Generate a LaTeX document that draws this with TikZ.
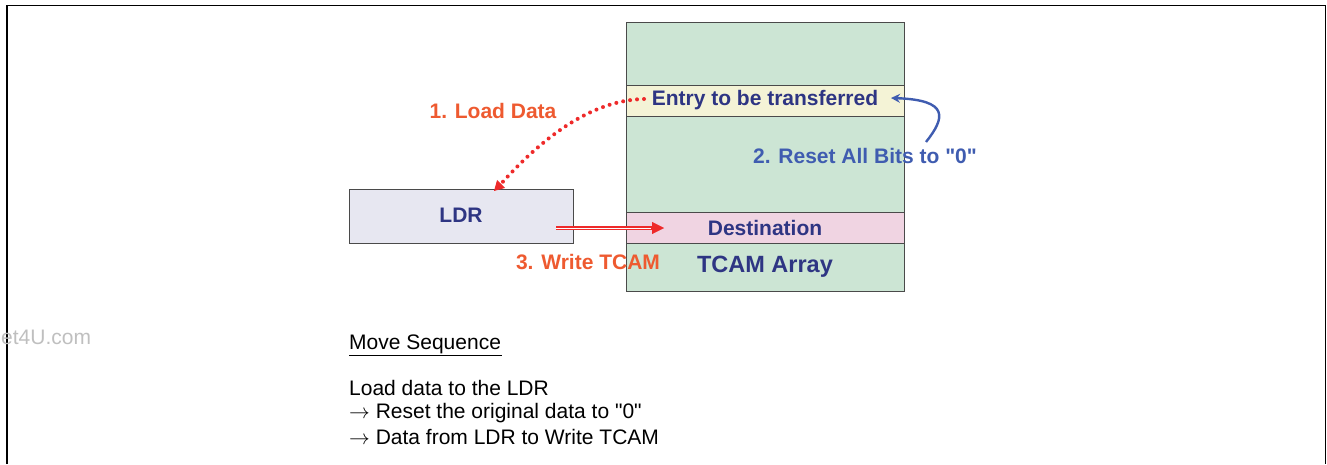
\documentclass[tikz,border=0pt]{standalone}
\usepackage{fontspec}
\setmainfont{Liberation Sans}[Ligatures=TeXOff]
\usetikzlibrary{arrows.meta,calc}
\definecolor{tgreen}{HTML}{CCE5D4}
\definecolor{tyellow}{HTML}{F4F3D6}
\definecolor{tpink}{HTML}{F0D4E2}
\definecolor{tlav}{HTML}{E7E7F1}
\definecolor{navy}{HTML}{2E3583}
\definecolor{ored}{HTML}{EE5A30}
\definecolor{bred}{HTML}{EE2A2A}
\definecolor{rblue}{HTML}{3F5CB0}
\definecolor{bord}{HTML}{4A4A4A}
\tikzset{
  band/.style={draw=bord, line width=1pt},
  lbl/.style={font=\bfseries\fontsize{21}{24}\selectfont, text=navy, inner sep=0pt},
  steplbl/.style={font=\bfseries\fontsize{21}{24}\selectfont, inner sep=0pt},
  plain/.style={font=\fontsize{21}{24}\selectfont, text=black, inner sep=0pt, anchor=west, text height=11pt, text depth=4pt},
}
\begin{document}
\begin{tikzpicture}[x=1pt,y=-1pt]
\useasboundingbox (0,0) rectangle (1327,464);
% frame
\draw[line width=1.6pt] (7,464) -- (7,5.5) -- (1325.5,5.5) -- (1325.5,464);
% watermark
\node[font=\fontsize{21}{24}\selectfont, text=black!25, inner sep=0pt, anchor=west] (wm) at (1,337) {et4U.com};
% TCAM array
\node[band, fill=tgreen, minimum width=278pt, minimum height=269pt, inner sep=0pt] (tcam) at (765,156.5) {};
\node[band, fill=tyellow, minimum width=278pt, minimum height=31pt, inner sep=0pt] (entry) at (765,100.5) {};
\node[band, fill=tpink, minimum width=278pt, minimum height=31pt, inner sep=0pt] (dest) at (765,227.5) {};
\node[lbl] (entrytxt) at (765,100) {Entry to be transferred};
\node[lbl] (desttxt) at (765,228) {Destination};
\node[lbl, font=\bfseries\fontsize{23.5}{26}\selectfont] (tcamtxt) at (765,267) {TCAM Array};
% LDR
\node[band, fill=tlav, minimum width=224pt, minimum height=54pt, inner sep=0pt] (ldr) at (461,216) {};
\node[lbl] (ldrtxt) at (461,215) {LDR};
% step labels
\node[steplbl, text=ored] (s1) at (493,111) {1. Load Data};
\node[steplbl, text=rblue] (s2) at (865,156) {2. Reset All Bits to "0"};
\node[steplbl, text=ored] (s3) at (588,262) {3. Write TCAM};
% arrows
\coordinate (a1s) at (644,99);
\coordinate (a1e) at (494,191);
\draw[bred, line width=4pt, dash pattern=on 0pt off 7pt, line cap=round] (a1s) .. controls (590,100) and (540,140) .. ($(a1e)+(6,-6)$);
\draw[bred, line width=1pt, -{Triangle[length=10pt,width=11pt]}] ($(a1e)+(7,-7)$) -- (a1e);
\coordinate (a2s) at (926,142);
\coordinate (a2e) at (891,98);
\draw[rblue, line width=2.4pt, -{Stealth[length=9pt,width=9pt]}] (a2s) .. controls (945,118) and (950,100) .. (a2e);
\coordinate (a3s) at (556,228);
\coordinate (a3e) at (664,228);
\draw[bred, line width=4pt] (a3s) -- ($(a3e)+(-12,0)$);
\draw[white, line width=1pt] (a3s) -- ($(a3e)+(-12,0)$);
\draw[bred, -{Triangle[length=12pt,width=12pt]}] ($(a3e)+(-13,0)$) -- (a3e);
% text block
\node[plain] (ms) at (349,346) {Move Sequence};
\draw[line width=0.8pt] (ms.south west)++(0,1.5) -- ++(153,0);
\node[plain] (l1) at (349,392) {Load data to the LDR};
\node[plain] (l2) at (349,415) {$\rightarrow$ Reset the original data to "0"};
\node[plain] (l3) at (349,441) {$\rightarrow$ Data from LDR to Write TCAM};
\end{tikzpicture}
\end{document}
